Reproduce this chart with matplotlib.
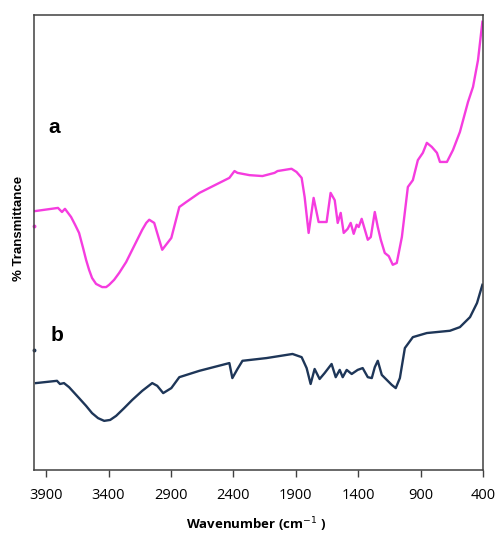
import matplotlib.pyplot as plt

# FTIR spectra, wavenumber (cm-1) vs. transmittance (arbitrary %, offset)
wn_a = [3989, 3805, 3773, 3749, 3700, 3668, 3636, 3604, 3580, 3556, 3532, 3500,
        3451, 3419, 3395, 3355, 3315, 3259, 3210, 3170, 3130, 3098, 3074, 3034,
        2994, 2970, 2897, 2833, 2777, 2672, 2432, 2391, 2367, 2271, 2167, 2070,
        2046, 1934, 1894, 1853, 1829, 1797, 1757, 1717, 1653, 1621, 1588, 1564,
        1540, 1516, 1484, 1460, 1436, 1412, 1396, 1372, 1323, 1299, 1267, 1243,
        1219, 1187, 1155, 1123, 1091, 1050, 1002, 962, 922, 882, 850, 810, 769,
        745, 689, 641, 585, 520, 480, 440, 405]
t_a = [56.9, 57.6, 56.7, 57.4, 55.6, 53.9, 52.1, 48.8, 46.2, 44.0, 42.2, 40.9,
       40.2, 40.2, 40.7, 41.8, 43.3, 45.7, 48.4, 50.6, 52.8, 54.3, 55.0, 54.3,
       50.6, 48.4, 51.0, 57.8, 58.9, 60.9, 64.2, 65.7, 65.3, 64.8, 64.6, 65.3,
       65.7, 66.2, 65.5, 64.2, 60.0, 52.1, 59.8, 54.5, 54.5, 60.9, 59.3, 54.3,
       56.5, 52.1, 53.0, 54.3, 51.9, 53.9, 53.4, 55.2, 50.6, 51.2, 56.7, 53.4,
       50.6, 47.7, 47.0, 45.1, 45.5, 51.2, 62.2, 63.7, 68.1, 69.7, 71.9, 71.0,
       69.7, 67.7, 67.7, 70.3, 74.3, 80.9, 84.2, 90.1, 98.5]

wn_b = [3981, 3813, 3789, 3757, 3716, 3636, 3580, 3532, 3484, 3435, 3387, 3339,
        3275, 3210, 3130, 3050, 3010, 2962, 2897, 2833, 2672, 2432, 2408, 2367,
        2327, 2134, 1926, 1853, 1813, 1781, 1749, 1709, 1669, 1613, 1580, 1548,
        1524, 1492, 1452, 1404, 1364, 1323, 1291, 1267, 1243, 1211, 1171, 1131,
        1099, 1066, 1026, 962, 850, 665, 585, 504, 448, 405]
t_b = [19.1, 19.6, 18.9, 19.1, 18.2, 15.8, 14.1, 12.5, 11.4, 10.8, 11.0, 11.9,
       13.6, 15.4, 17.4, 19.1, 18.5, 16.9, 18.0, 20.4, 21.8, 23.5, 20.2, 22.2,
       24.0, 24.6, 25.5, 24.8, 22.4, 18.9, 22.2, 20.0, 21.3, 23.3, 20.4, 22.0,
       20.4, 22.0, 21.1, 22.0, 22.4, 20.4, 20.2, 22.6, 24.0, 20.9, 19.8, 18.7,
       18.0, 20.2, 26.8, 29.2, 30.1, 30.6, 31.4, 33.6, 36.7, 40.7]

# first recorded points sit on the left frame edge
start_a = (3997, 53.6)
start_b = (3997, 26.4)

xticks = [3900, 3400, 2900, 2400, 1900, 1400, 900, 400]

col_a = '#F53CDF'
col_b = '#1E3658'

fig = plt.figure(figsize=(4.98, 5.33), dpi=100)
ax = fig.add_axes([0.0683, 0.1182, 0.9016, 0.8537])

ax.plot(wn_a, t_a, color=col_a, lw=1.7, solid_joinstyle='round')
ax.plot(wn_b, t_b, color=col_b, lw=1.7, solid_joinstyle='round')
ax.plot(*start_a, 'o', color=col_a, ms=1.8, clip_on=False)
ax.plot(*start_b, 'o', color=col_b, ms=1.8, clip_on=False)

ax.text(3837, 75.2, 'a', fontsize=15, fontweight='bold', ha='center', va='center',
        family='Liberation Sans')
ax.text(3810, 29.5, 'b', fontsize=15, fontweight='bold', ha='center', va='center',
        family='Liberation Sans')

ax.set_xlim(3997, 400)
ax.set_ylim(0, 100)
ax.set_xticks(xticks)
ax.set_xticklabels([str(t) for t in xticks], family='Open Sans', fontsize=10.5)
ax.set_yticks([])
ax.tick_params(axis='x', direction='out', length=5, width=1, color='#404040', pad=8)
for s in ax.spines.values():
    s.set_color('#404040')
    s.set_linewidth(1.1)

fig.text(0.515, 0.016, 'Wavenumber (cm$^{-1}$ )', ha='center', va='center',
         fontsize=9.5, fontweight='bold', family='Open Sans')
fig.text(0.038, 0.572, '% Transmittance', rotation=90, ha='center', va='center',
         fontsize=9.5, fontweight='bold', family='Liberation Sans')

fig.savefig('out.png', dpi=100)
